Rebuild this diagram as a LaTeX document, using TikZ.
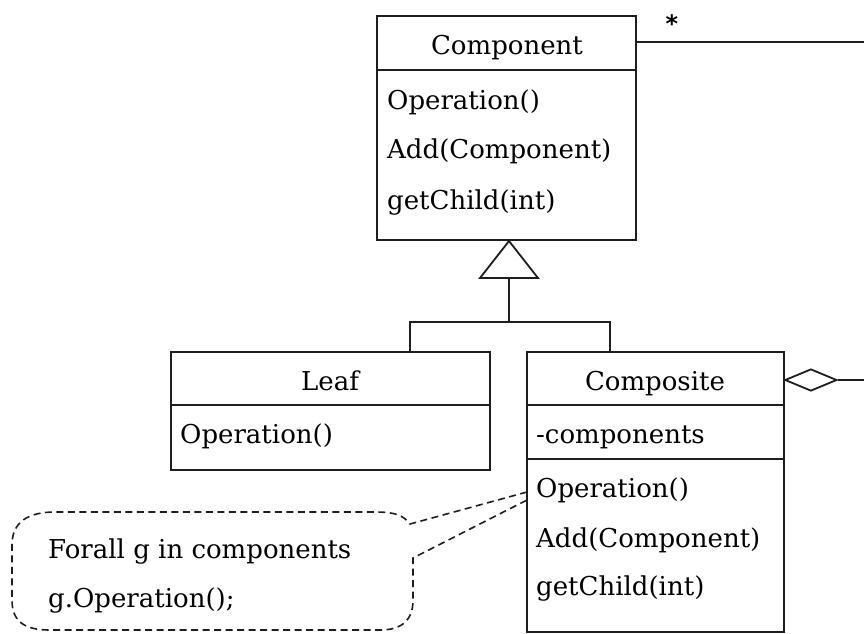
\documentclass[tikz,border=0pt]{standalone}
\usepackage{fontspec}
\usetikzlibrary{shapes.geometric}
\setmainfont{DejaVu Serif}
\newfontfamily\starfont{DejaVu Sans}
\definecolor{ink}{HTML}{1E1E1E}
\begin{document}
\begin{tikzpicture}[x=1pt,y=-1pt,
  classbox/.style={draw=ink, line width=1.9pt, inner sep=0pt},
  divline/.style={draw=ink, line width=1.9pt},
  conn/.style={draw=ink, line width=1.8pt},
  txt/.style={inner sep=0pt, anchor=base west, text=black, font=\fontsize{26}{30}\selectfont},
  ctxt/.style={inner sep=0pt, anchor=base, text=black, font=\fontsize{26}{30}\selectfont},
  note/.style={draw=ink, line width=1.6pt, dash pattern=on 7pt off 4.5pt}]
\useasboundingbox (0,0) rectangle (864,633);
% Component
\node[classbox, minimum width=259pt, minimum height=224pt] (comp) at (506.5,128) {};
\draw[divline] (377,70) -- (636,70);
\node[ctxt] (compname) at (507,54) {Component};
\node[txt] (compop) at (387,109) {Operation()};
\node[txt] (compadd) at (387,158) {Add(Component)};
\node[txt] (compget) at (387,209) {getChild(int)};
% Leaf
\node[classbox, minimum width=319pt, minimum height=118pt] (leaf) at (330.5,411) {};
\draw[divline] (171,405) -- (490,405);
\node[ctxt] (leafname) at (330,390) {Leaf};
\node[txt] (leafop) at (180,443) {Operation()};
% Composite
\node[classbox, minimum width=257pt, minimum height=280pt] (compo) at (655.5,492) {};
\draw[divline] (527,405) -- (784,405);
\draw[divline] (527,459) -- (784,459);
\node[ctxt] (componame) at (655,390) {Composite};
\node[txt] (compofield) at (536,443) {-components};
\node[txt] (compoop) at (536,497) {Operation()};
\node[txt] (compoadd) at (536,547) {Add(Component)};
\node[txt] (compoget) at (536,595) {getChild(int)};
% inheritance
\coordinate (apex) at (509,241);
\coordinate (tribase) at (509,278);
\coordinate (fork) at (509,322);
\coordinate (leaftop) at (410,352);
\coordinate (compotop) at (610,352);
\draw[conn, fill=white] (apex) -- (480,278) -- (538,278) -- cycle;
\draw[conn] (tribase) -- (fork);
\draw[conn] (leaftop) |- (fork) -| (compotop);
% association with *
\coordinate (assocend) at (866,42);
\draw[conn] (comp.north east |- 0,42) -- (assocend);
\node[inner sep=0pt, font=\starfont\bfseries\fontsize{24}{26}\selectfont] (star) at (672,24) {*};
% aggregation diamond
\coordinate (aggend) at (866,380);
\node[draw=ink, line width=1.8pt, diamond, aspect=2.4, minimum width=52pt, minimum height=22pt, inner sep=0pt, anchor=west] (agg) at (784,380) {};
\draw[conn] (agg.east) -- (aggend);
% note
\coordinate (noteA) at (527,492);
\coordinate (noteB) at (527,500);
\draw[note] (noteA) -- (410,524) .. controls (403,515) and (395,512) .. (375,512) -- (55,512)
  .. controls (28,512) and (12,522) .. (12,545) -- (12,600)
  .. controls (12,622) and (25,630) .. (50,630) -- (380,630)
  .. controls (402,630) and (413,620) .. (413,600) -- (413,558) -- (noteB);
\node[txt] (note1) at (48,558) {Forall g in components};
\node[txt] (note2) at (48,607) {g.Operation();};
\end{tikzpicture}
\end{document}
